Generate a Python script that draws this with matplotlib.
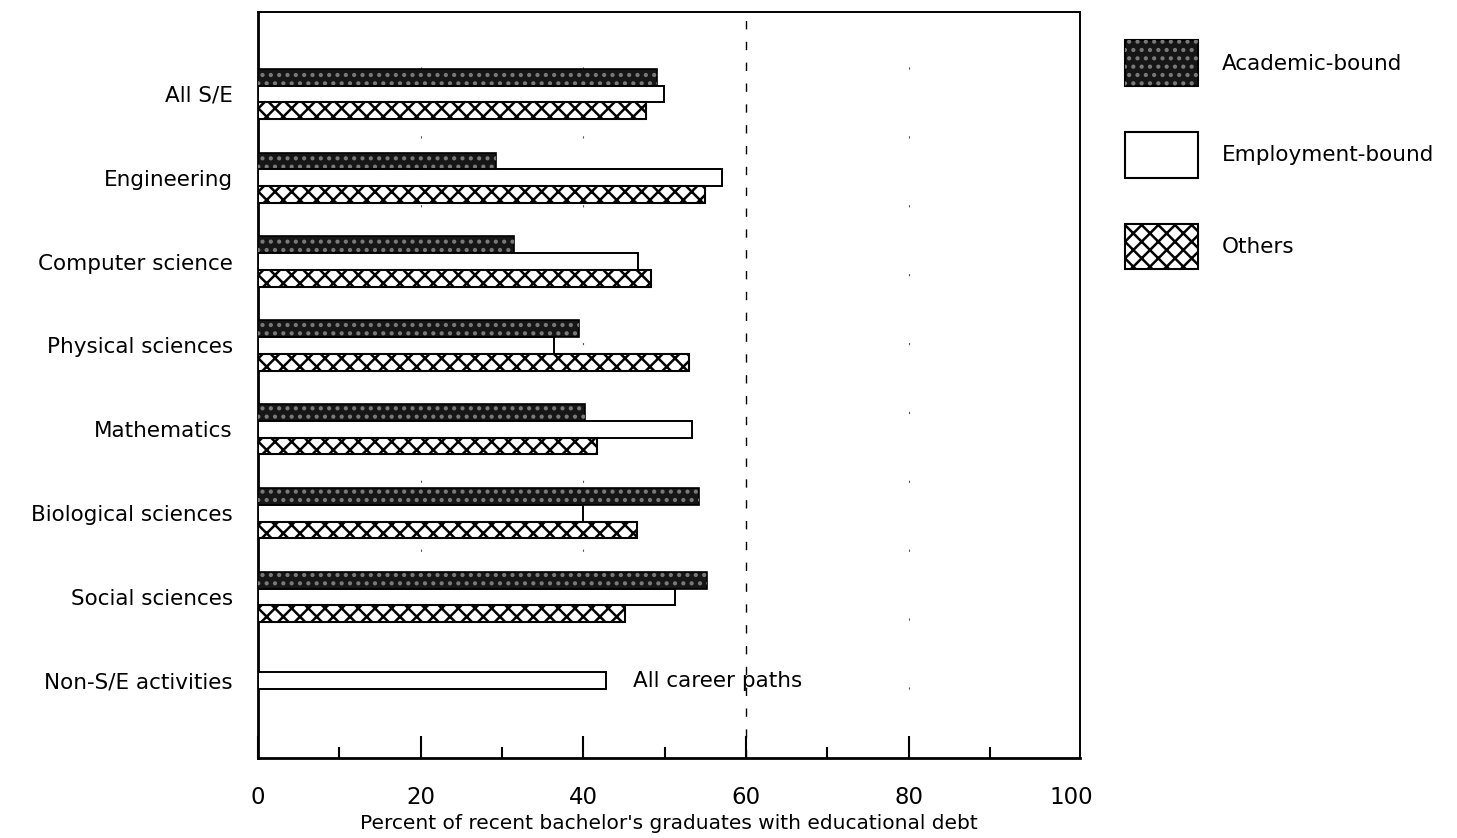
"""
Recent bachelor's graduates with educational debt, by field and career path.
"""

import matplotlib
matplotlib.use("Agg")
import matplotlib.pyplot as plt
from matplotlib.patches import Patch
from matplotlib.legend_handler import HandlerTuple

# Data
fields = ["All S/E", "Engineering", "Computer science", "Physical sciences",
          "Mathematics", "Biological sciences", "Social sciences",
          "Non-S/E activities"]
academic = [49.1, 29.3, 31.5, 39.5, 40.2, 54.2, 55.2]
employment = [49.9, 57.1, 46.7, 36.4, 53.4, 39.9, 51.3]
others = [47.7, 54.9, 48.3, 53.0, 41.7, 46.6, 45.1]
all_paths = 42.8  # Non-S/E activities, all career paths

series_labels = ["Academic-bound", "Employment-bound", "Others"]
x_ticks = [0, 20, 40, 60, 80, 100]
x_minor = [10, 30, 50, 70, 90]

plt.rcParams['font.family'] = ['DejaVu Sans']
plt.rcParams['hatch.linewidth'] = 1.8

fig = plt.figure(figsize=(14.57, 8.38), dpi=100)
ax = fig.add_axes([0.177, 0.0955, 0.564, 0.8905])

h = 0.2
n = len(academic)
pos = list(range(n))

# Academic-bound: dark stippled fill
ax.barh([p - h for p in pos], academic, height=h,
        color="#161616", edgecolor="black", linewidth=1.2, zorder=3)
ax.barh([p - h for p in pos], academic, height=h,
        facecolor="none", edgecolor="#7a7a7a", hatch="..",
        linewidth=0, zorder=3)

# Employment-bound: plain white
ax.barh(pos, employment, height=h,
        color="white", edgecolor="black", linewidth=1.4, zorder=3)

# Others: cross hatch
ax.barh([p + h for p in pos], others, height=h,
        color="white", edgecolor="black", hatch="xx",
        linewidth=1.5, zorder=3)

# Non-S/E, all career paths
ax.barh(n, all_paths, height=h,
        color="white", edgecolor="black", linewidth=1.4, zorder=3)
ax.text(46.1, n, "All career paths", fontsize=15.5, va="center", ha="left")

# faint reference lines
ax.axvline(60, color="black", linewidth=1.0, linestyle=(0, (6, 9)), zorder=1)
for xv in (20, 40, 80):
    ax.axvline(xv, color="#555555", linewidth=0.8,
               linestyle=(0, (2, 60)), zorder=1)

ax.set_xlim(0, 101)
ax.set_ylim(n + 0.92, -0.98)

ax.set_yticks(range(len(fields)))
ax.set_yticklabels(fields, fontsize=15.5)
ax.tick_params(axis="y", length=0, pad=18)

ax.set_xticks(x_ticks)
ax.set_xticks(x_minor, minor=True)
ax.tick_params(axis="x", which="major", direction="in", length=16,
               width=1.5, pad=20, labelsize=16.5)
ax.tick_params(axis="x", which="minor", direction="in", length=8,
               width=1.5)
ax.xaxis.get_major_ticks()[-1].tick1line.set_visible(False)

for side in ("left", "bottom"):
    ax.spines[side].set_linewidth(2.0)
for side in ("top", "right"):
    ax.spines[side].set_linewidth(1.4)

ax.set_xlabel("Percent of recent bachelor's graduates with educational debt",
              fontsize=14.5, labelpad=4)

# legend
h_acad = (Patch(facecolor="#161616", edgecolor="black", linewidth=1.5),
          Patch(facecolor="none", edgecolor="#7a7a7a", hatch="..",
                linewidth=0))
h_emp = Patch(facecolor="white", edgecolor="black", linewidth=1.5)
h_oth = Patch(facecolor="white", edgecolor="black", hatch="xx",
              linewidth=1.5)
fig.legend([h_acad, h_emp, h_oth], series_labels,
           handler_map={tuple: HandlerTuple(ndivide=1)},
           loc="upper left", bbox_to_anchor=(0.772, 0.952),
           frameon=False, fontsize=15.5, handlelength=3.4,
           handleheight=2.9, labelspacing=2.13, handletextpad=1.1,
           borderpad=0, borderaxespad=0)

fig.savefig("out.png", dpi=100)
